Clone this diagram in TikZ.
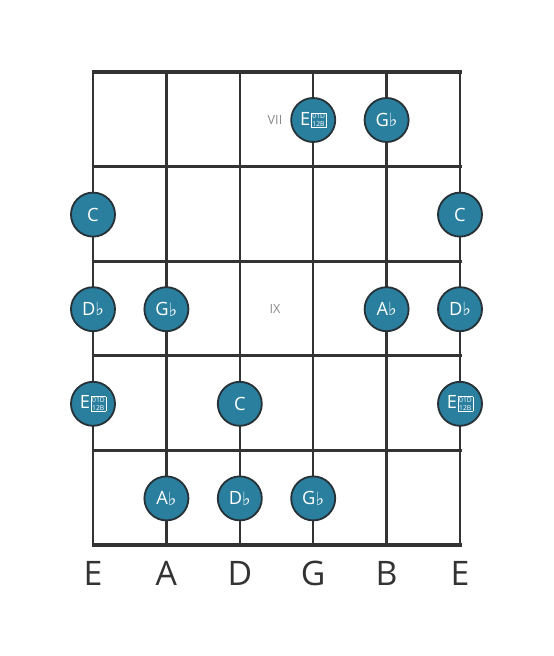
\documentclass[tikz,border=0pt]{standalone}
\usepackage{fontspec}
\setmainfont{Open Sans}
\newfontfamily\symfont{DejaVu Sans}
\usetikzlibrary{positioning}

\definecolor{dotfill}{HTML}{2A7F9E}
\definecolor{dotline}{HTML}{263238}
\definecolor{gridline}{HTML}{333333}
\definecolor{fretnum}{HTML}{8A8A8A}

% flat sign and the unrendered double flat box
\newcommand{\fl}{{\symfont\itshape\fontsize{13}{13}\selectfont\raisebox{-0.3pt}{♭}}}
\newcommand{\dfl}{\hspace{0.6pt}{\setlength{\fboxsep}{0.5pt}\setlength{\fboxrule}{0.4pt}\raisebox{-1pt}{\fbox{\fontsize{4.8}{5}\selectfont\vbox{\hbox{01D}\kern0.6pt\hbox{12B}}}}}}

\tikzset{
  notedot/.style={circle, draw=dotline, line width=1.3pt, fill=dotfill,
    minimum size=1.1cm, inner sep=0pt, text=white, font=\fontsize{13}{13}\selectfont},
  fretlabel/.style={text=fretnum, font=\fontsize{9}{9}\selectfont},
  stringname/.style={text=gridline, font=\fontsize{24}{24}\selectfont}
}

\begin{document}
\begin{tikzpicture}[x=0.025cm, y=-0.025cm]

	\fill[white] (0,0) rectangle (553,656);
	
	%//strings
	\foreach \s in {0,1,2,3,4,5}
	\draw[gridline, line width=1.6pt] (93+73.4*\s, 72) -- (93+73.4*\s, 545);
	
	%//frets
	\draw[gridline, line width=3pt] (91.5,72) -- (461.5,72);
	\foreach \f in {1,2,3,4,5}
	\draw[gridline, line width=2.4pt] (91.5,72+94.6*\f) -- (461.5,72+94.6*\f);
	
	\node[fretlabel] (vii) at (275,120) {VII};
	\node[fretlabel] (ix) at (275,309) {IX};
	
	%//dots, string/fret/label
	\foreach \s/\f/\val/\nm in {3/0/E\dfl/a, 4/0/G\fl/b,
		0/1/C/c, 5/1/C/d,
		0/2/D\fl/e, 1/2/G\fl/f, 4/2/A\fl/g, 5/2/D\fl/h,
		0/3/E\dfl/i, 2/3/C/j, 5/3/E\dfl/k,
		1/4/A\fl/l, 2/4/D\fl/m, 3/4/G\fl/n}
	\node[notedot] (dot\nm) at (93+73.4*\s, 120+94.6*\f) {\val};
	
	%//open strings
	\foreach \s/\val in {0/E,1/A,2/D,3/G,4/B,5/E}
	\node[stringname] (str\s) at (93+73.4*\s, 573) {\val};

\end{tikzpicture}
\end{document}
